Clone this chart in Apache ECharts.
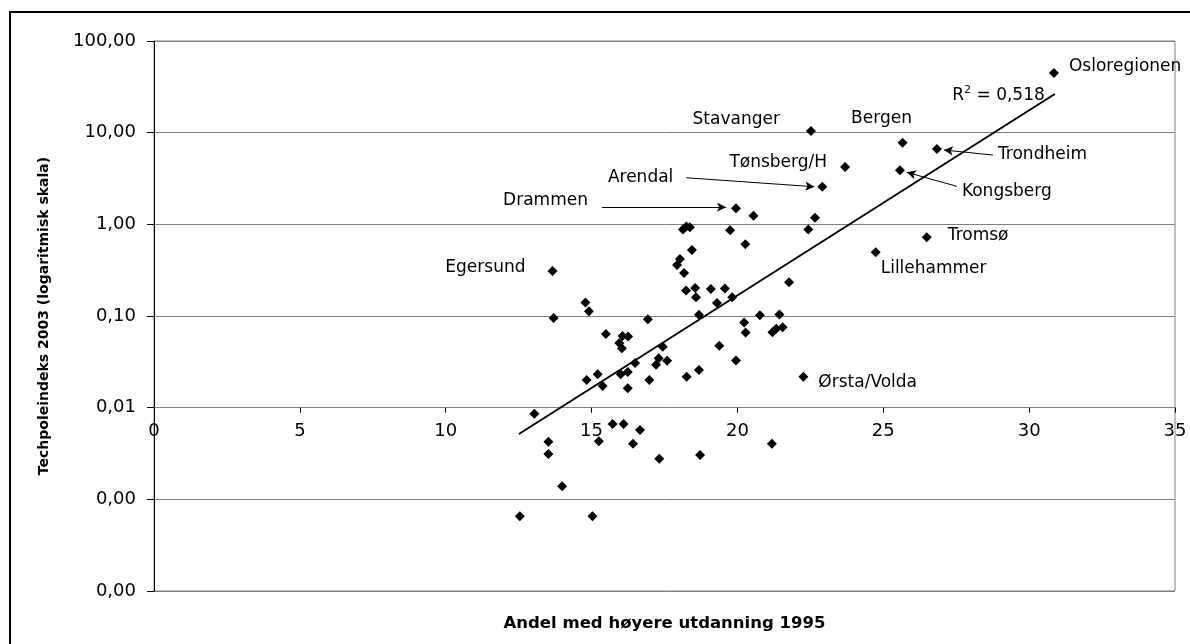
<!DOCTYPE html>
<html><head><meta charset="utf-8">
<script src="https://cdn.jsdelivr.net/npm/echarts@6/dist/echarts.min.js"></script>
<style>html,body{margin:0;padding:0;background:#fff}#c{width:1190px;height:644px}</style>
</head><body><div id="c"></div>
<script>
// ---- data ----
const regionNames = ['Osloregionen','Stavanger','Bergen','Trondheim','Tønsberg/H','Kongsberg','Arendal','Drammen','Egersund','Tromsø','Lillehammer','Ørsta/Volda'];
const regionX = [30.85, 22.52, 25.66, 26.84, 23.69, 25.57, 22.91, 19.95, 13.66, 26.49, 24.74, 22.26];
const regionY = [44.8, 10.4, 7.78, 6.63, 4.22, 3.88, 2.57, 1.50, 0.31, 0.722, 0.496, 0.0218];
const otherX = [20.55,22.66,19.75,22.43,18.13,18.37,18.25,20.27,18.44,18.03,17.93,18.17,21.77,18.24,18.55,19.09,19.57,18.58,19.3,19.82,18.68,20.77,21.44,20.23,20.28,21.2,21.33,21.55,19.38,19.95,18.68,18.26,
  14.79,14.91,13.7,16.93,15.49,16.06,16.25,15.95,16.04,17.44,16.49,17.3,17.59,17.21,15.21,16.0,16.24,14.83,15.38,16.98,16.24,
  13.04,13.52,13.52,13.99,12.54,15.03,15.25,15.72,16.1,16.66,16.42,17.32,18.72,21.18];
const otherY = [1.24,1.18,0.86,0.88,0.88,0.93,0.95,0.605,0.525,0.419,0.36,0.294,0.233,0.19,0.202,0.197,0.2,0.16,0.139,0.16,0.103,0.102,0.104,0.085,0.066,0.0664,0.0727,0.0755,0.0474,0.0327,0.0258,0.0217,
  0.14,0.113,0.0951,0.0923,0.0636,0.0605,0.0597,0.0507,0.0445,0.0463,0.0307,0.0345,0.0325,0.0294,0.0231,0.0232,0.0245,0.02,0.0172,0.02,0.0163,
  0.0086,0.00426,0.00313,0.00139,0.000653,0.000653,0.0043,0.00664,0.00664,0.0057,0.00405,0.00277,0.00305,0.00405];
const trendX = [12.51, 30.88];
const trendY = [0.00516, 26.4];
const rSquaredText = '0,518';
const xAxisTitle = 'Andel med høyere utdanning 1995';
const yAxisTitle = 'Techpoleindeks 2003 (logaritmisk skala)';

// ---- layout / style (not data) ----
const labelLayout = {
  'Osloregionen': {align:'left', offset:[15,-6]},
  'Stavanger': {align:'right', offset:[-31,-12]},
  'Bergen': {align:'center', offset:[-21,-24]},
  'Trondheim': {align:'left', offset:[61,6]},
  'Tønsberg/H': {align:'right', offset:[-18,-4]},
  'Kongsberg': {align:'left', offset:[62,21]},
  'Arendal': {align:'right', offset:[-149,-9]},
  'Drammen': {align:'right', offset:[-148,-8]},
  'Egersund': {align:'right', offset:[-27,-3]},
  'Tromsø': {align:'left', offset:[21,-2]},
  'Lillehammer': {align:'left', offset:[5,16]},
  'Ørsta/Volda': {align:'left', offset:[15,6]}
};
const arrowLayout = {
  'Drammen': [[-134,-1],[-10,-1]],
  'Arendal': [[-136,-9],[-8,0]],
  'Trondheim': [[56,6],[7,1]],
  'Kongsberg': [[57,16],[7,2]]
};
const FONT = 'DejaVu Sans';
const GRID = {left:154, right:15, top:41, bottom:53};

const chart = echarts.init(document.getElementById('c'), null, {renderer:'canvas'});

const regionData = regionNames.map((n,i) => {
  const l = labelLayout[n] || {align:'left', offset:[10,0]};
  return {value:[regionX[i], regionY[i]], name:n,
    label:{show:true, position:'inside', align:l.align, verticalAlign:'middle', offset:l.offset,
      formatter:n, color:'#000', textBorderColor:'transparent', textBorderWidth:0, fontFamily:FONT, fontSize:17}};
});
const otherData = otherX.map((x,i) => [x, otherY[i]]);
const trendData = trendX.map((x,i) => {
  const item = {value:[x, trendY[i]]};
  if (i === trendX.length - 1) {
    item.label = {show:true, position:'inside', align:'right', verticalAlign:'middle', offset:[-10,2],
      textBorderColor:'transparent', textBorderWidth:0,
      formatter:'{r|R}{s|2}{r| = ' + rSquaredText + '}',
      rich:{r:{fontFamily:FONT, fontSize:17, color:'#000', lineHeight:22},
            s:{fontFamily:FONT, fontSize:11, color:'#000', verticalAlign:'top', lineHeight:22}}};
  }
  return item;
});

// axis crossing at y = 0.01 : 2 decades above bottom (1e-4), 6 decades total
const plotH = 644 - GRID.top - GRID.bottom;
const xAxisOffset = -plotH * 2 / 6;

const option = {
  animation:false,
  backgroundColor:'#fff',
  grid:{left:GRID.left, right:GRID.right, top:GRID.top, bottom:GRID.bottom, show:true, borderColor:'#808080', borderWidth:1, containLabel:false, outerBoundsMode:'none'},
  xAxis:{type:'value', min:0, max:35, interval:5, position:'bottom', offset:xAxisOffset,
    name:xAxisTitle, nameLocation:'middle', nameGap:208,
    nameTextStyle:{fontFamily:FONT, fontWeight:'bold', fontSize:16.5, color:'#000'},
    axisLine:{show:true, onZero:false, lineStyle:{color:'#808080', width:1}},
    axisTick:{show:true, length:5, lineStyle:{color:'#000'}},
    axisLabel:{fontFamily:FONT, fontSize:18, color:'#000', margin:15},
    splitLine:{show:false}},
  yAxis:{type:'log', logBase:10, min:0.0001, max:100, splitNumber:6,
    name:yAxisTitle, nameLocation:'middle', nameRotate:90, nameGap:103,
    nameTextStyle:{fontFamily:FONT, fontWeight:'bold', fontSize:14, color:'#000'},
    axisLine:{show:true, lineStyle:{color:'#000', width:1}},
    axisTick:{show:true, length:7, lineStyle:{color:'#000'}},
    axisLabel:{fontFamily:FONT, fontSize:18, color:'#000', margin:18,
      formatter:v => Number(v).toFixed(2).replace('.', ',')},
    splitLine:{show:true, lineStyle:{color:'#808080', width:1}}},
  graphic:[{type:'rect', shape:{x:10, y:12, width:1200, height:700}, style:{fill:'none', stroke:'#000', lineWidth:2}, silent:true}],
  series:[
    {type:'scatter', name:'regions', data:regionData, symbol:'diamond', symbolSize:10,
      itemStyle:{color:'#000', opacity:1}, z:3},
    {type:'scatter', name:'others', data:otherData, symbol:'diamond', symbolSize:10,
      itemStyle:{color:'#000', opacity:1}, z:3},
    {type:'line', name:'trend', data:trendData, symbol:'circle', symbolSize:0, showSymbol:true,
      lineStyle:{color:'#000', width:2}, itemStyle:{color:'#000', opacity:1}, z:2}
  ]
};
chart.setOption(option);

// arrows from label to point, positioned through the chart's own scales
const arrowLines = [];
regionNames.forEach((n,i) => {
  const a = arrowLayout[n];
  if (!a) return;
  const p = chart.convertToPixel({seriesIndex:0}, [regionX[i], regionY[i]]);
  arrowLines.push([{x:p[0]+a[0][0], y:p[1]+a[0][1]}, {x:p[0]+a[1][0], y:p[1]+a[1][1]}]);
});
chart.setOption({series:[{name:'regions', markLine:{silent:true, symbol:['none','arrow'], symbolSize:[7,9],
  label:{show:false}, lineStyle:{color:'#000', width:1, type:'solid', opacity:1}, data:arrowLines}}]});
</script></body></html>
